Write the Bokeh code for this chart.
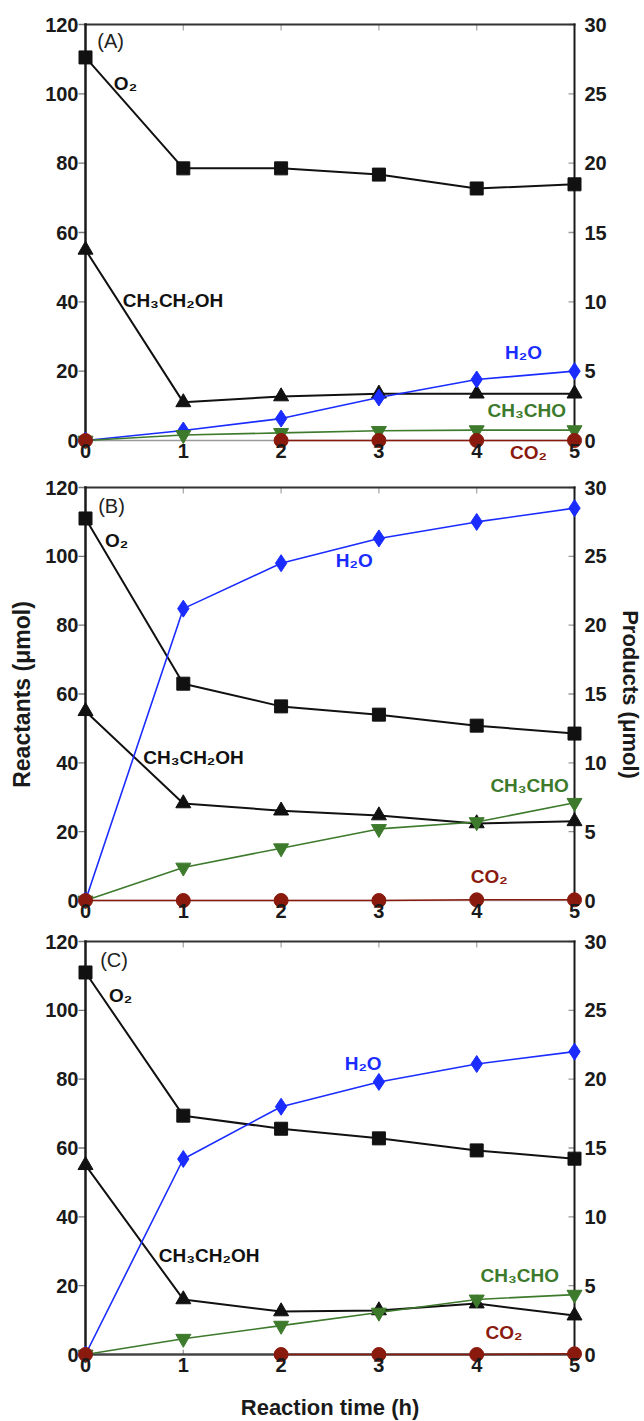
from bokeh.plotting import figure
from bokeh.models import LinearAxis, Range1d, Label, FixedTicker
from bokeh.layouts import column
from bokeh.embed import file_html
from bokeh.resources import INLINE

nan = float("nan")

# ---- data ----
time_h = [0, 1, 2, 3, 4, 5]
x_ticks = [0, 1, 2, 3, 4, 5]
left_ticks = [0, 20, 40, 60, 80, 100, 120]
right_ticks = [0, 5, 10, 15, 20, 25, 30]
panel_tags = ["(A)", "(B)", "(C)"]

# Reactants (left axis, umol)
o2_A = [110.5, 78.5, 78.5, 76.7, 72.7, 73.9]
etoh_A = [55.0, 11.0, 12.7, 13.5, 13.5, 13.5]
o2_B = [111.0, 63.0, 56.4, 54.0, 50.8, 48.5]
etoh_B = [55.0, 28.2, 26.1, 24.7, 22.4, 23.0]
o2_C = [111.0, 69.4, 65.6, 62.8, 59.3, 56.9]
etoh_C = [55.0, 16.0, 12.5, 12.8, 14.8, 11.3]

# Products (right axis, umol)
h2o_A = [0.0, 0.72, 1.58, 3.1, 4.4, 5.0]
ch3cho_A = [0.0, 0.4, 0.55, 0.7, 0.75, 0.75]
co2_A = [0.0, nan, 0.0, 0.0, 0.0, 0.0]
h2o_B = [0.0, 21.2, 24.5, 26.3, 27.5, 28.5]
ch3cho_B = [0.0, 2.4, 3.8, 5.2, 5.7, 7.1]
co2_B = [0.0, 0.0, 0.0, 0.0, 0.05, 0.05]
h2o_C = [0.0, 14.2, 18.0, 19.8, 21.1, 22.0]
ch3cho_C = [0.0, 1.15, 2.1, 3.05, 4.0, 4.35]
co2_C = [0.0, nan, 0.0, 0.0, 0.0, 0.05]

series_names = ["O₂", "CH₃CH₂OH", "H₂O", "CH₃CHO", "CO₂"]

FONT = "Liberation Sans"
BLACK = "#111111"
BLUE = "#1a2cff"
GREEN = "#3d7a2c"
RED = "#8a1a0e"

X_MIN, X_MAX = 0, 5
Y_MIN, Y_MAX = 0, 120
P_MAX = 30
SCALE = P_MAX / Y_MAX

BOX_W = 489          # px width of the drawn frame box
M_LR = 9             # px of hidden margin left/right so edge markers are not cut


def make_panel(idx, o2, etoh, h2o, ch3cho, co2, label_pos, box_h, top_m, bot_m,
               b_top, b_bot, x_lab_standoff, ylab=False, xlab=False,
               bottom_color="#9a9a9a", bottom_w=1.5):
    xu = BOX_W / (X_MAX - X_MIN)        # px per x unit
    yu = box_h / (Y_MAX - Y_MIN)        # px per y unit
    x0 = X_MIN - M_LR / xu
    x1 = X_MAX + M_LR / xu
    y0 = Y_MIN - bot_m / yu
    y1 = Y_MAX + top_m / yu
    p = figure(frame_width=BOX_W + 2 * M_LR, frame_height=box_h + top_m + bot_m,
               output_backend="svg", toolbar_location=None,
               x_range=Range1d(x0, x1), y_range=Range1d(y0, y1),
               min_border_left=85 - M_LR, min_border_right=53,
               min_border_top=b_top, min_border_bottom=b_bot,
               x_axis_location=None, y_axis_location=None)
    p.extra_y_ranges = {"prod": Range1d(y0 * SCALE, y1 * SCALE)}
    p.grid.visible = False
    p.outline_line_color = None
    p.background_fill_color = "white"
    p.border_fill_color = "white"

    # left axis (labels only; frame and ticks drawn below)
    la = LinearAxis(ticker=FixedTicker(ticks=left_ticks))
    la.axis_line_color = None
    la.major_tick_line_color = None
    la.minor_tick_line_color = None
    la.major_tick_out = 0
    la.major_tick_in = 0
    la.major_label_standoff = -2
    la.major_label_text_font = FONT
    la.major_label_text_font_style = "bold"
    la.major_label_text_font_size = "20px"
    la.major_label_text_color = "#1a1a1a"
    if ylab:
        la.axis_label = "Reactants (μmol)"
        la.axis_label_text_font = FONT
        la.axis_label_text_font_style = "bold"
        la.axis_label_text_font_size = "23px"
        la.axis_label_standoff = 7
        la.axis_label_text_color = "#1a1a1a"
    p.add_layout(la, "left")

    # right axis
    ra = LinearAxis(y_range_name="prod", ticker=FixedTicker(ticks=right_ticks))
    ra.axis_line_color = None
    ra.major_tick_line_color = None
    ra.minor_tick_line_color = None
    ra.major_tick_out = 0
    ra.major_tick_in = 0
    ra.major_label_standoff = 1
    ra.major_label_text_font = FONT
    ra.major_label_text_font_style = "bold"
    ra.major_label_text_font_size = "20px"
    ra.major_label_text_color = "#1a1a1a"
    if ylab:
        ra.axis_label = "Products (μmol)"
        ra.axis_label_text_font = FONT
        ra.axis_label_text_font_style = "bold"
        ra.axis_label_text_font_size = "22px"
        ra.axis_label_standoff = 8
        ra.axis_label_text_color = "#1a1a1a"
    p.add_layout(ra, "right")

    # bottom axis
    ba = LinearAxis(ticker=FixedTicker(ticks=x_ticks))
    ba.axis_line_color = None
    ba.major_tick_line_color = None
    ba.minor_tick_line_color = None
    ba.major_tick_in = 0
    ba.major_tick_out = 0
    ba.major_label_standoff = x_lab_standoff
    ba.major_label_text_font = FONT
    ba.major_label_text_font_style = "bold"
    ba.major_label_text_font_size = "20px"
    ba.major_label_text_color = "#1a1a1a"
    if xlab:
        ba.axis_label = "Reaction time (h)"
        ba.axis_label_text_font = FONT
        ba.axis_label_text_font_style = "bold"
        ba.axis_label_text_font_size = "22px"
        ba.axis_label_standoff = 20
        ba.axis_label_text_color = "#1a1a1a"
    p.add_layout(ba, "below")

    # ticks (drawn at the frame box edges)
    lt = 7 / xu
    p.segment(x0=[X_MIN - lt] * len(left_ticks), x1=[X_MIN] * len(left_ticks),
              y0=left_ticks, y1=left_ticks, line_color="#777777", line_width=1.3)
    rt = 6 / xu
    p.segment(x0=[X_MAX - rt] * len(right_ticks), x1=[X_MAX] * len(right_ticks),
              y0=right_ticks, y1=right_ticks, line_color="#999999", line_width=1.3,
              y_range_name="prod")
    inner = x_ticks[1:-1]
    tt = 6 / yu
    p.segment(x0=inner, x1=inner, y0=[Y_MAX] * len(inner), y1=[Y_MAX - tt] * len(inner),
              line_color="#aaaaaa", line_width=1.3)
    p.segment(x0=inner, x1=inner, y0=[Y_MIN] * len(inner), y1=[Y_MIN + tt * 0.8] * len(inner),
              line_color="#999999", line_width=1.3)

    # frame box
    p.segment(x0=[X_MIN], x1=[X_MAX], y0=[Y_MIN], y1=[Y_MIN],
              line_color=bottom_color, line_width=bottom_w)
    p.segment(x0=[X_MIN], x1=[X_MAX], y0=[Y_MAX], y1=[Y_MAX],
              line_color="#333333", line_width=2, line_cap="square")
    p.segment(x0=[X_MAX], x1=[X_MAX], y0=[Y_MIN], y1=[Y_MAX],
              line_color="#1a1a1a", line_width=2, line_cap="square")
    p.segment(x0=[X_MIN], x1=[X_MIN], y0=[Y_MIN], y1=[Y_MAX],
              line_color="#1a1a1a", line_width=2.5, line_cap="square")

    # reactants
    p.line(time_h, o2, line_color=BLACK, line_width=2)
    p.scatter(time_h, o2, marker="square", size=13, fill_color=BLACK, line_color=BLACK)
    p.line(time_h, etoh, line_color=BLACK, line_width=2)
    p.scatter(time_h, etoh, marker="triangle", size=15, fill_color=BLACK, line_color=BLACK)

    # products
    p.line(time_h, h2o, line_color=BLUE, line_width=1.6, y_range_name="prod")
    p.scatter(time_h, h2o, marker="diamond", size=17, fill_color=BLUE, line_color=BLUE,
              y_range_name="prod")
    p.line(time_h, ch3cho, line_color=GREEN, line_width=1.6, y_range_name="prod")
    p.scatter(time_h, ch3cho, marker="inverted_triangle", size=15, fill_color=GREEN,
              line_color=GREEN, y_range_name="prod")
    p.line(time_h, co2, line_color=RED, line_width=1.6, y_range_name="prod")
    p.scatter(time_h, co2, marker="circle", size=14, fill_color=RED, line_color=RED,
              y_range_name="prod")

    # panel tag and curve names
    tx, ty = label_pos[0]
    p.add_layout(Label(x=tx, y=ty, text=panel_tags[idx], text_font=FONT,
                       text_font_size="20px", text_color="#222222",
                       text_align="left", text_baseline="middle"))
    colors = [BLACK, BLACK, BLUE, GREEN, RED]
    for name, col, (lx, ly) in zip(series_names, colors, label_pos[1:]):
        p.add_layout(Label(x=lx, y=ly, text=name, text_font=FONT,
                           text_font_size="19px", text_font_style="bold",
                           text_color=col, text_align="left", text_baseline="middle"))
    return p


pos_A = [(0.12, 115.1), (0.29, 103.0), (0.38, 40.4), (4.29, 25.4), (4.11, 8.7), (4.34, -3.5)]
pos_B = [(0.13, 114.5), (0.20, 104.6), (0.59, 41.5), (2.56, 98.8), (4.14, 33.4), (3.94, 7.0)]
pos_C = [(0.15, 114.5), (0.24, 104.3), (0.75, 28.8), (2.65, 84.5), (4.04, 23.0), (4.09, 6.4)]

pA = make_panel(0, o2_A, etoh_A, h2o_A, ch3cho_A, co2_A, pos_A,
                box_h=416, top_m=8, bot_m=22, b_top=16, b_bot=8, x_lab_standoff=-19)
pB = make_panel(1, o2_B, etoh_B, h2o_B, ch3cho_B, co2_B, pos_B,
                box_h=413, top_m=8, bot_m=9, b_top=9, b_bot=16, x_lab_standoff=-6,
                ylab=True, bottom_color="#b0b0b0", bottom_w=1.5)
pC = make_panel(2, o2_C, etoh_C, h2o_C, ch3cho_C, co2_C, pos_C,
                box_h=413, top_m=8, bot_m=9, b_top=8, b_bot=57, x_lab_standoff=-6,
                xlab=True, bottom_color="#444444", bottom_w=2.5)

layout = column(pA, pB, pC, spacing=0)
open("out.html", "w").write(file_html(layout, INLINE))
